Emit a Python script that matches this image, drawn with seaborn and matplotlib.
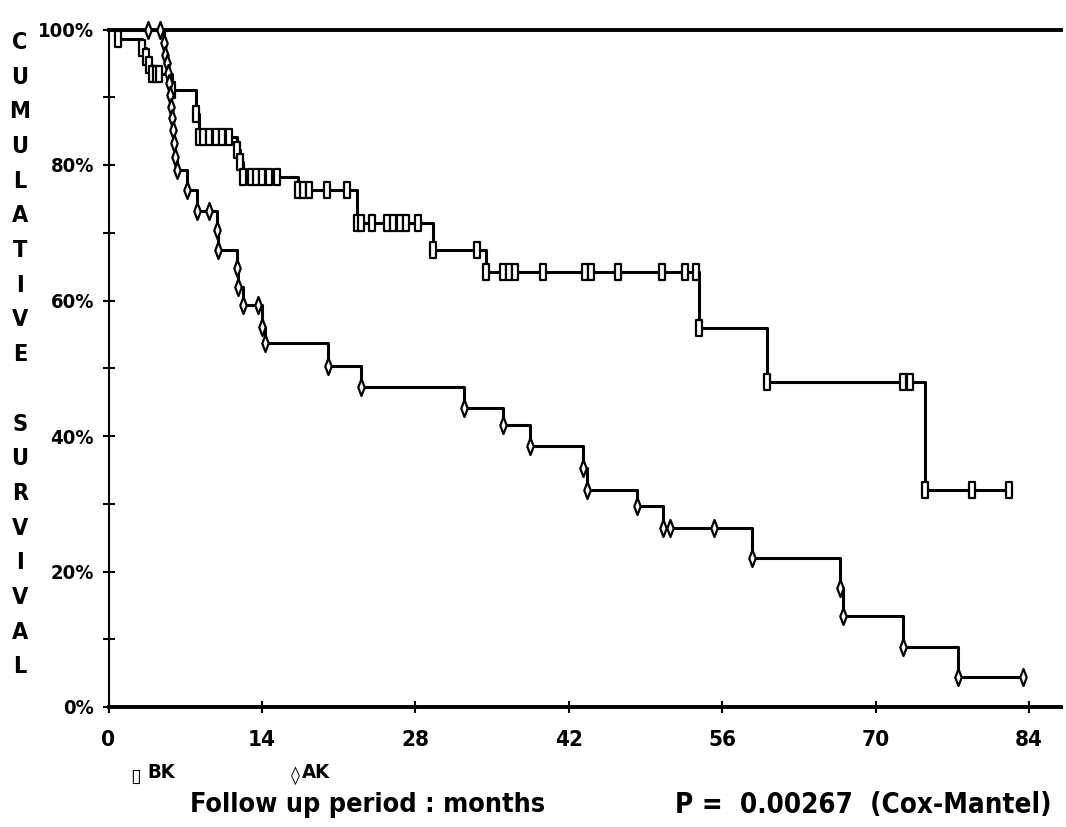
import matplotlib
matplotlib.use("Agg")
import matplotlib.pyplot as plt
from matplotlib import font_manager as fm
import seaborn as sns
import pandas as pd
from matplotlib.path import Path

# ---------------- data ----------------
# BK group (squares): event times and survival (%) after each step
bk_event_t = [0.9, 3.1, 3.4, 3.7, 4.0, 5.8, 8.0, 8.3, 11.7, 12.0, 12.3,
              17.3, 22.7, 29.6, 34.4, 53.9, 60.1, 74.5]
bk_event_s = [98.6, 97.3, 96.0, 94.7, 93.4, 91.1, 87.6, 84.2, 82.2, 80.4, 78.2,
              76.3, 71.4, 67.5, 64.2, 56.0, 48.0, 32.0]
bk_cens_t = [4.3, 4.6, 8.6, 9.2, 9.8, 10.4, 11.0, 13.0, 13.5, 14.0, 14.6, 15.4,
             17.7, 18.3, 19.9, 21.8, 23.0, 24.0, 25.4, 26.0, 26.6, 27.1, 28.2,
             33.6, 36.0, 36.5, 37.1, 39.6, 43.5, 44.0, 46.5, 50.5, 52.6, 53.6,
             72.5, 73.1, 78.8, 82.2]
bk_cens_s = [93.4, 93.4, 84.2, 84.2, 84.2, 84.2, 84.2, 78.2, 78.2, 78.2, 78.2, 78.2,
             76.3, 76.3, 76.3, 76.3, 71.4, 71.4, 71.4, 71.4, 71.4, 71.4, 71.4,
             67.5, 64.2, 64.2, 64.2, 64.2, 64.2, 64.2, 64.2, 64.2, 64.2, 64.2,
             48.0, 48.0, 32.0, 32.0]
bk_end_t = 82.2

# AK group (diamonds)
ak_event_t = [5.1, 5.2, 5.3, 5.4, 5.5, 5.6, 5.7, 5.8, 5.9, 6.0, 6.1, 6.25, 7.2,
              8.1, 9.9, 10.0, 11.7, 11.8, 12.3, 14.0, 14.3, 20.0, 23.0, 32.4,
              36.0, 38.5, 43.3, 43.7, 48.2, 50.6, 58.7, 66.7, 67.0, 72.5, 77.5]
ak_event_s = [98.0, 96.2, 95.1, 93.6, 92.1, 90.3, 88.6, 86.9, 85.2, 83.2, 81.2, 79.3,
              76.3, 73.2, 70.4, 67.5, 64.8, 62.0, 59.3, 56.1, 53.7, 50.4, 47.2,
              44.1, 41.6, 38.5, 35.3, 32.0, 29.6, 26.4, 22.0, 17.6, 13.4, 8.9, 4.4]
ak_cens_t = [3.6, 4.7, 9.2, 13.6, 51.2, 55.2, 83.4]
ak_cens_s = [100.0, 100.0, 73.2, 59.3, 26.4, 26.4, 4.4]
ak_end_t = 83.4

x_ticks = [0, 14, 28, 42, 56, 70, 84]
y_ticks = [0, 20, 40, 60, 80, 100]
y_tick_labels = ["0%", "20%", "40%", "60%", "80%", "100%"]
y_label = "CUMULATIVE SURVIVAL"
x_label = "Follow up period : months"
p_text = "P =  0.00267  (Cox-Mantel)"
legend_names = ["BK", "AK"]

# ---------------- styling ----------------
sns.set_style("white")

# look for an installed condensed / narrow bold face
cond = None
for f in fm.fontManager.ttflist:
    nm = f.name + " " + f.fname
    if ("Narrow" in nm or "Condensed" in nm) and f.weight in ("bold", 700, "heavy"):
        if "Oblique" in f.fname or "Italic" in f.fname:
            continue
        cond = f.name
        break
FONT = ([cond] if cond else []) + ["Liberation Sans", "DejaVu Sans"]
plt.rcParams["font.family"] = FONT
plt.rcParams["font.weight"] = "bold"
for key in ["text.color", "axes.labelcolor", "xtick.color", "ytick.color",
            "axes.edgecolor"]:
    plt.rcParams[key] = "black"
STRETCH = "condensed" if cond else "normal"

W, H = 1066, 827
fig = plt.figure(figsize=(W / 100, H / 100), dpi=100)
ax = fig.add_axes([108.5 / W, 120 / H, 952.5 / W, 677.5 / H])
renderer = fig.canvas.get_renderer()


def fit_size(s, target_w, max_size):
    t = fig.text(0, 0, s, fontsize=max_size, fontweight="bold", fontstretch=STRETCH)
    w = t.get_window_extent(renderer).width
    t.remove()
    return min(max_size, max_size * target_w / w)


def step_frame(ev_t, ev_s, end_t):
    t = [0.0] + list(ev_t) + [end_t]
    s = [100.0] + list(ev_s) + [ev_s[-1]]
    return pd.DataFrame({"t": t, "s": s})


rect_marker = Path([(-0.42, -1), (0.42, -1), (0.42, 1), (-0.42, 1), (-0.42, -1)],
                   [Path.MOVETO, Path.LINETO, Path.LINETO, Path.LINETO, Path.CLOSEPOLY])
diam_marker = Path([(0, 1), (0.38, 0), (0, -1), (-0.38, 0), (0, 1)],
                   [Path.MOVETO, Path.LINETO, Path.LINETO, Path.LINETO, Path.CLOSEPOLY])

for ev_t, ev_s, c_t, c_s, end_t, mk, sz in [
    (bk_event_t, bk_event_s, bk_cens_t, bk_cens_s, bk_end_t, rect_marker, 120),
    (ak_event_t, ak_event_s, ak_cens_t, ak_cens_s, ak_end_t, diam_marker, 150),
]:
    df = step_frame(ev_t, ev_s, end_t)
    sns.lineplot(data=df, x="t", y="s", drawstyle="steps-post", estimator=None,
                 sort=False, color="black", lw=2.2, ax=ax)
    marks = pd.DataFrame({"t": list(ev_t) + list(c_t), "s": list(ev_s) + list(c_s)})
    sns.scatterplot(data=marks, x="t", y="s", marker=mk, s=sz, facecolor="white",
                    edgecolor="black", linewidth=1.6, ax=ax, zorder=5, clip_on=False)

ax.set_xlim(0, 86.9)
ax.set_ylim(0, 100)
ax.set_xticks(x_ticks)
ax.set_xticklabels([str(v) for v in x_ticks])
ax.set_yticks(y_ticks)
ax.set_yticklabels(y_tick_labels)
ax.set_yticks([10, 30, 50, 70, 90], minor=True)
ax.set_xlabel("")
ax.set_ylabel("")

for side in ["top", "bottom"]:
    ax.spines[side].set_linewidth(2.8)
    ax.spines[side].set_color("black")
ax.spines["left"].set_linewidth(1.5)
ax.spines["left"].set_color("black")
ax.spines["right"].set_visible(False)

ytick_size = fit_size("100%", 56, 21)
xtick_size = fit_size("14", 28, 21)
ax.tick_params(axis="y", which="both", direction="inout", length=9, width=1.5,
               left=True, pad=6, labelsize=ytick_size, colors="black")
ax.tick_params(axis="x", which="major", direction="inout", length=9, width=1.5,
               bottom=True, pad=12, labelsize=xtick_size, colors="black")
for lab in ax.get_xticklabels() + ax.get_yticklabels():
    lab.set_fontweight("bold")
    lab.set_fontstretch(STRETCH)

# vertical stacked y-label
letter_size = fit_size("M", 21, 23)
pitch = 34.7
for i, ch in enumerate(y_label):
    if ch == " ":
        continue
    yc = 25 + pitch * (i + 0.5)
    fig.text(20 / W, 1 - yc / H, ch, ha="center", va="center", fontsize=letter_size,
             fontweight="bold", fontstretch=STRETCH, color="black")

# legend-like markers and names
leg_size = fit_size("BK", 28, 20)
fig.text(136 / W, 1 - 776 / H, "\u25AF", ha="center", va="center", fontsize=14,
         family=["DejaVu Sans"], color="black")
fig.text(147 / W, 1 - 773 / H, legend_names[0], ha="left", va="center",
         fontsize=leg_size, fontweight="bold", fontstretch=STRETCH, color="black")
fig.text(295 / W, 1 - 776 / H, "\u25CA", ha="center", va="center", fontsize=13,
         family=["DejaVu Sans"], color="black")
fig.text(302 / W, 1 - 773 / H, legend_names[1], ha="left", va="center",
         fontsize=leg_size, fontweight="bold", fontstretch=STRETCH, color="black")

fig.text(190 / W, 1 - 805 / H, x_label, ha="left", va="center",
         fontsize=fit_size(x_label, 356, 24), fontweight="bold", fontstretch=STRETCH,
         color="black")
fig.text(675 / W, 1 - 805 / H, p_text, ha="left", va="center",
         fontsize=fit_size(p_text, 376, 24), fontweight="bold", fontstretch=STRETCH,
         color="black")

fig.savefig("out.png", dpi=100, facecolor="white")
